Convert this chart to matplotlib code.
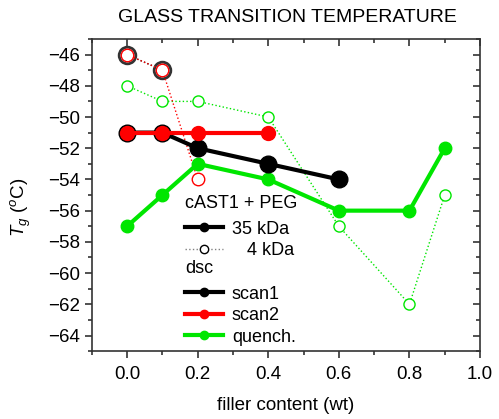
import matplotlib
matplotlib.use("Agg")
import matplotlib.pyplot as plt
from matplotlib.lines import Line2D

plt.rcParams['font.family'] = ['Liberation Sans', 'DejaVu Sans']
plt.rcParams['mathtext.fontset'] = 'custom'
plt.rcParams['mathtext.it'] = 'Liberation Sans:italic'
plt.rcParams['mathtext.rm'] = 'Liberation Sans'

# 35 kDa, filled markers
x_scan1 = [0.0, 0.1, 0.2, 0.4, 0.6]
y_scan1 = [-51, -51, -52, -53, -54]
x_scan2 = [0.0, 0.1, 0.2, 0.4]
y_scan2 = [-51, -51, -51, -51]
x_quench = [0.0, 0.1, 0.2, 0.4, 0.6, 0.8, 0.9]
y_quench = [-57, -55, -53, -54, -56, -56, -52]

# 4 kDa, open markers
x_scan1_4k = [0.0, 0.1]
y_scan1_4k = [-46, -47]
x_scan2_4k = [0.0, 0.1, 0.2]
y_scan2_4k = [-46, -47, -54]
x_quench_4k = [0.0, 0.1, 0.2, 0.4, 0.6, 0.8, 0.9]
y_quench_4k = [-48, -49, -49, -50, -57, -62, -55]

green = '#00e600'
red = '#ff0000'

fig = plt.figure(figsize=(4.99, 4.19), dpi=100)
ax = fig.add_axes([0.184, 0.162, 0.778, 0.745])

# 4 kDa dotted
ax.plot(x_quench_4k, y_quench_4k, ':', color=green, lw=1, marker='o', ms=8,
        mfc='white', mec=green, mew=1)
ax.plot(x_scan1_4k, y_scan1_4k, ':', color='black', lw=1, marker='o', ms=12,
        mfc='white', mec='#333333', mew=2)
ax.plot(x_scan2_4k, y_scan2_4k, ':', color=red, lw=1, marker='o', ms=9,
        mfc='white', mec=red, mew=1)

# 35 kDa solid
ax.plot(x_quench, y_quench, '-', color=green, lw=3, marker='o', ms=9,
        mfc=green, mec=green)
ax.plot(x_scan1, y_scan1, '-', color='black', lw=3, marker='o', ms=12,
        mfc='black', mec='black')
ax.plot(x_scan2, y_scan2, '-', color=red, lw=3, marker='o', ms=10,
        mfc=red, mec=red)

xmaj = [0.0, 0.2, 0.4, 0.6, 0.8, 1.0]
xmin = [-0.1, 0.1, 0.3, 0.5, 0.7, 0.9]
ymaj = list(range(-64, -45, 2))
ymin = list(range(-65, -44, 2))

ax.set_xlim(-0.1, 1.0)
ax.set_ylim(-65, -45)
ax.set_xticks(xmaj)
ax.set_xticks(xmin, minor=True)
ax.set_yticks(ymaj)
ax.set_yticks(ymin, minor=True)
ax.xaxis.set_major_formatter(matplotlib.ticker.FormatStrFormatter('%.1f'))

for s in ax.spines.values():
    s.set_color('#333333')
    s.set_linewidth(1.2)
ax.tick_params(which='both', direction='out', labelsize=13.5, color='#333333',
               width=1.2)
ax.tick_params(which='major', length=5)
ax.tick_params(which='minor', length=3)
ax.tick_params(axis='x', pad=6)

# mirrored ticks inward on top / right
axt = ax.secondary_xaxis('top')
axt.set_xticks(xmaj)
axt.set_xticks(xmin, minor=True)
axt.tick_params(which='both', direction='in', labeltop=False, color='#333333', width=1.2)
axt.tick_params(which='major', length=5)
axt.tick_params(which='minor', length=3)
axr = ax.secondary_yaxis('right')
axr.set_yticks(ymaj)
axr.set_yticks(ymin, minor=True)
axr.tick_params(which='both', direction='in', labelright=False, color='#333333', width=1.2)
axr.tick_params(which='major', length=5)
axr.tick_params(which='minor', length=3)
axt.spines['top'].set_visible(False)
axr.spines['right'].set_visible(False)

ax.set_xlabel('filler content (wt)', fontsize=13.5, labelpad=10)
ax.set_ylabel(r'$T_g$ ($^o$C)', fontsize=13.5)
ax.yaxis.set_label_coords(-0.152, 0.46)
ax.yaxis.label.set_va('bottom')
fig.text(0.576, 0.959, 'GLASS TRANSITION TEMPERATURE', ha='center', va='center',
         fontsize=14)

# legends: header as title, left aligned
h35 = Line2D([], [], color='black', lw=3, marker='o', ms=6)
h4 = Line2D([], [], color='gray', lw=1, ls=':', marker='o', ms=6, mfc='white', mec='black')
hs1 = Line2D([], [], color='black', lw=3, marker='o', ms=6)
hs2 = Line2D([], [], color=red, lw=3, marker='o', ms=6)
hq = Line2D([], [], color=green, lw=3, marker='o', ms=6)

leg_kw = dict(loc='upper left', frameon=False, fontsize=13, title_fontsize=13,
              alignment='left', handlelength=2.1, handletextpad=0.5,
              labelspacing=0.25, borderpad=0, borderaxespad=0)
leg1 = ax.legend([h35, h4], ['35 kDa', '\u2007 4 kDa'], title='cAST1 + PEG',
                 bbox_to_anchor=(0.24, 0.499), **leg_kw)
leg1._legend_box.sep = 6
ax.add_artist(leg1)
leg2 = ax.legend([hs1, hs2, hq], ['scan1', 'scan2', 'quench.'], title='dsc',
                 bbox_to_anchor=(0.24, 0.291), **leg_kw)
leg2._legend_box.sep = 6

fig.savefig('out.png', dpi=100)
